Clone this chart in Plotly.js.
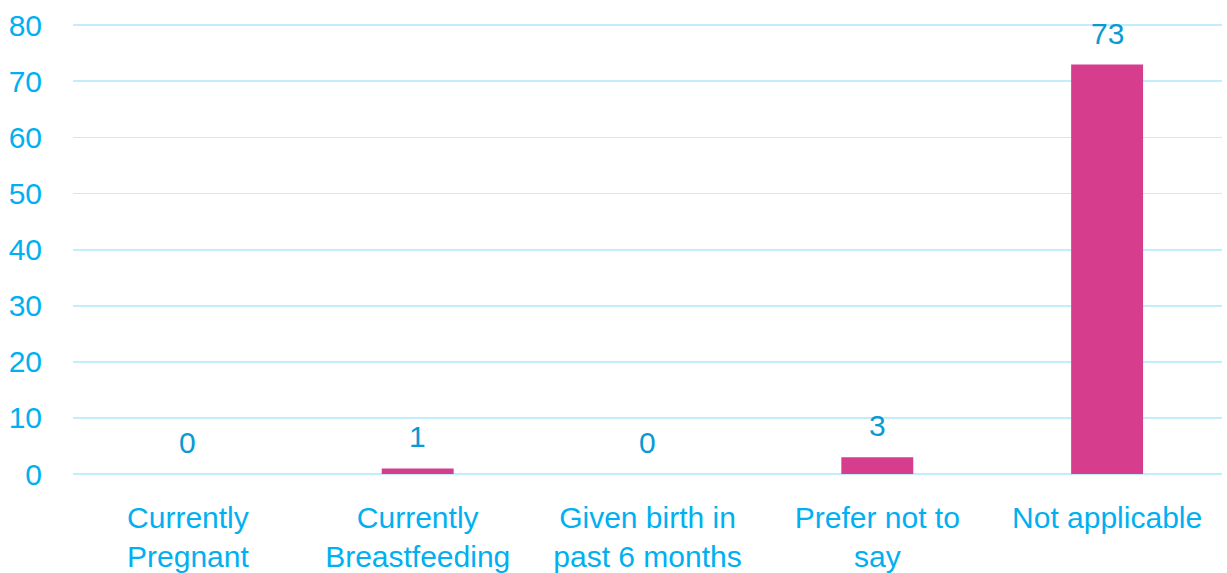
<!DOCTYPE html>
<html><head><meta charset="utf-8">
<script src="https://cdn.plot.ly/plotly-3.0.1.min.js"></script>
<style>html,body{margin:0;padding:0;background:#fff;}#chart{width:1227px;height:573px;}</style>
</head><body><div id="chart"></div>
<script>
const categories = ["Currently<br>Pregnant", "Currently<br>Breastfeeding", "Given birth in<br>past 6 months", "Prefer not to<br>say", "Not applicable"];
const values = [0, 1, 0, 3, 73];
const yTicks = [0, 10, 20, 30, 40, 50, 60, 70, 80];

const FONT = "Tahoma, 'Liberation Sans', Arial, sans-serif";
const FS = 30;
const trace = {
  type: 'bar', x: categories, y: values,
  marker: {color: '#D63D8D'},
  hoverinfo: 'none'
};
const annotations = categories.map((c, i) => ({
  x: c, y: values[i], xref: 'x', yref: 'y', text: String(values[i]),
  showarrow: false, yanchor: 'bottom', yshift: 13,
  font: {family: FONT, size: FS, color: '#0A9AD3'}
}));
const layout = {
  width: 1227, height: 573,
  margin: {l: 73, r: 5, t: 23, b: 99},
  paper_bgcolor: '#fff', plot_bgcolor: '#fff',
  bargap: 0.687,
  showlegend: false,
  font: {family: FONT, size: FS, color: '#00B0F0'},
  xaxis: {
    showgrid: false, showline: false, zeroline: false,
    ticks: 'outside', ticklen: 17, tickcolor: 'rgba(0,0,0,0)',
    tickfont: {family: FONT, size: FS, color: '#00B0F0'}
  },
  yaxis: {
    range: [0, 80.4], tickvals: yTicks, ticktext: yTicks.map(String),
    showgrid: true, gridcolor: '#C4EDFB', gridwidth: 1.8,
    zeroline: true, zerolinecolor: '#C4EDFB', zerolinewidth: 1.8,
    showline: false,
    ticks: 'outside', ticklen: 24, tickcolor: 'rgba(0,0,0,0)',
    tickfont: {family: FONT, size: FS, color: '#00B0F0'}
  },
  annotations: annotations
};
Plotly.newPlot('chart', [trace], layout, {displayModeBar: false, staticPlot: true});
</script></body></html>
